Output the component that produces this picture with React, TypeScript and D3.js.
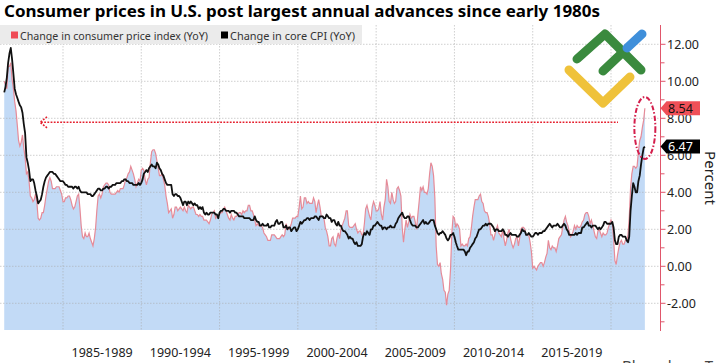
import React from "react";
import * as d3 from "d3";

const width = 720;
const height = 363;

// monthly YoY change in %, Apr 1981 .. Mar 2022 (one row per year)
const cpiYoY = [
  10.0, 9.8, 9.6, 10.8, 10.8, 11.0, 10.1, 9.6, 8.9,
  8.4, 7.6, 6.8, 6.5, 6.7, 7.1, 6.4, 5.9, 5.0, 5.1, 4.6, 3.8,
  3.7, 3.5, 3.6, 3.9, 3.5, 2.6, 2.5, 2.6, 2.9, 2.9, 3.3, 3.8,
  4.2, 4.6, 4.8, 4.6, 4.2, 4.2, 4.2, 4.3, 4.3, 4.3, 4.1, 3.9,
  3.5, 3.5, 3.7, 3.7, 3.8, 3.8, 3.6, 3.3, 3.1, 3.2, 3.5, 3.8,
  3.9, 3.1, 2.2, 1.6, 1.5, 1.8, 1.6, 1.6, 1.8, 1.5, 1.3, 1.1,
  1.5, 2.1, 3.0, 3.8, 3.9, 3.7, 3.9, 4.3, 4.4, 4.5, 4.5, 4.4,
  4.0, 3.9, 3.9, 3.9, 3.9, 4.0, 4.1, 4.0, 4.2, 4.2, 4.2, 4.4,
  4.7, 4.8, 5.0, 5.1, 5.4, 5.2, 5.0, 4.7, 4.3, 4.5, 4.7, 4.6,
  5.2, 5.3, 5.2, 4.7, 4.4, 4.7, 4.8, 5.6, 6.2, 6.3, 6.3, 6.1,
  5.7, 5.3, 4.9, 4.9, 5.0, 4.7, 4.4, 3.8, 3.4, 2.9, 3.0, 3.1,
  2.6, 2.8, 3.2, 3.2, 3.0, 3.1, 3.2, 3.1, 3.0, 3.2, 3.0, 2.9,
  3.3, 3.2, 3.1, 3.2, 3.2, 3.0, 2.8, 2.8, 2.7, 2.8, 2.7, 2.7,
  2.5, 2.5, 2.5, 2.4, 2.3, 2.5, 2.8, 2.9, 3.0, 2.6, 2.7, 2.7,
  2.8, 2.9, 2.9, 3.1, 3.2, 3.0, 2.8, 2.6, 2.5, 2.8, 2.6, 2.5,
  2.7, 2.7, 2.8, 2.9, 2.9, 2.8, 3.0, 2.9, 3.0, 3.0, 3.3, 3.3,
  3.0, 3.0, 2.8, 2.5, 2.2, 2.3, 2.2, 2.2, 2.2, 2.1, 1.8, 1.7,
  1.6, 1.4, 1.4, 1.4, 1.7, 1.7, 1.7, 1.6, 1.5, 1.5, 1.5, 1.6,
  1.7, 1.6, 1.7, 2.3, 2.1, 2.0, 2.1, 2.3, 2.6, 2.6, 2.6, 2.7,
  2.7, 3.2, 3.8, 3.1, 3.2, 3.7, 3.7, 3.4, 3.5, 3.4, 3.4, 3.4,
  3.7, 3.5, 2.9, 3.3, 3.6, 3.2, 2.7, 2.7, 2.6, 2.1, 1.9, 1.6,
  1.1, 1.1, 1.5, 1.6, 1.2, 1.1, 1.5, 1.8, 1.5, 2.0, 2.2, 2.4,
  2.6, 3.0, 3.0, 2.2, 2.1, 2.1, 2.1, 2.2, 2.3, 2.0, 1.8, 1.9,
  1.9, 1.7, 1.7, 2.3, 3.1, 3.3, 3.0, 2.7, 2.5, 3.2, 3.5, 3.3,
  3.0, 3.0, 3.1, 3.5, 2.8, 2.5, 3.2, 3.6, 4.7, 4.3, 3.5, 3.4,
  4.0, 3.6, 3.4, 3.5, 4.2, 4.3, 4.1, 3.8, 2.1, 1.3, 2.0, 2.5,
  2.1, 2.4, 2.8, 2.6, 2.7, 2.7, 2.4, 2.0, 2.8, 3.5, 4.3, 4.1,
  4.3, 4.0, 4.0, 3.9, 4.2, 5.0, 5.6, 5.4, 4.9, 3.7, 1.1, 0.1,
  0.0, 0.2, -0.4, -0.7, -1.3, -1.4, -2.1, -1.5, -1.3, -0.2, 1.8, 2.7,
  2.6, 2.1, 2.3, 2.2, 2.0, 1.1, 1.2, 1.1, 1.1, 1.2, 1.1, 1.5,
  1.6, 2.1, 2.7, 3.2, 3.6, 3.6, 3.6, 3.8, 3.9, 3.5, 3.4, 3.0,
  2.9, 2.9, 2.7, 2.3, 1.7, 1.7, 1.4, 1.7, 2.0, 2.2, 1.8, 1.7,
  1.6, 2.0, 1.5, 1.1, 1.4, 1.8, 2.0, 1.5, 1.2, 1.0, 1.2, 1.5,
  1.6, 1.1, 1.5, 2.0, 2.1, 2.1, 2.0, 1.7, 1.7, 1.7, 1.3, 0.8,
  -0.1, 0.0, -0.1, -0.2, 0.0, 0.1, 0.2, 0.2, 0.0, 0.2, 0.5, 0.7,
  1.4, 1.0, 0.9, 1.1, 1.0, 1.0, 0.8, 1.1, 1.5, 1.6, 1.7, 2.1,
  2.5, 2.7, 2.4, 2.2, 1.9, 1.6, 1.7, 1.9, 2.2, 2.0, 2.2, 2.1,
  2.1, 2.2, 2.4, 2.5, 2.8, 2.9, 2.9, 2.7, 2.3, 2.5, 2.2, 1.9,
  1.6, 1.5, 1.9, 2.0, 1.8, 1.6, 1.8, 1.7, 1.7, 1.8, 2.1, 2.3,
  2.5, 2.3, 1.5, 0.3, 0.1, 0.6, 1.0, 1.3, 1.4, 1.2, 1.2, 1.4,
  1.4, 1.7, 2.6, 4.2, 5.0, 5.4, 5.4, 5.3, 5.4, 6.2, 6.8, 7.0,
  7.5, 7.9, 8.54,
];

const coreYoY = [
  9.4, 9.7, 10.2, 11.0, 11.5, 11.8, 11.2, 10.4, 9.6,
  9.3, 9.1, 8.9, 8.7, 8.6, 8.3, 7.7, 7.2, 5.9, 5.6, 5.2, 4.6,
  4.7, 4.7, 4.5, 4.1, 3.8, 3.4, 3.5, 3.6, 3.9, 4.3, 4.6, 4.8,
  4.9, 5.0, 5.1, 5.1, 5.1, 5.0, 5.0, 4.9, 4.8, 4.7, 4.6, 4.6,
  4.6, 4.5, 4.4, 4.4, 4.3, 4.3, 4.3, 4.3, 4.2, 4.3, 4.3, 4.2,
  4.3, 4.1, 4.0, 4.0, 4.0, 4.0, 4.0, 3.9, 3.9, 3.9, 3.8, 3.8,
  3.9, 4.0, 4.1, 4.2, 4.2, 4.1, 4.1, 4.2, 4.2, 4.3, 4.3, 4.2,
  4.3, 4.3, 4.4, 4.4, 4.4, 4.5, 4.5, 4.5, 4.5, 4.6, 4.6, 4.7,
  4.7, 4.6, 4.6, 4.5, 4.5, 4.5, 4.4, 4.4, 4.4, 4.4, 4.5, 4.4,
  4.5, 4.7, 5.0, 5.1, 5.2, 5.1, 5.3, 5.4, 5.5, 5.4, 5.4, 5.3,
  5.6, 5.5, 5.3, 5.2, 5.0, 4.9, 4.7, 4.5, 4.4, 4.4, 4.4, 4.4,
  3.9, 3.8, 3.9, 3.9, 3.8, 3.8, 3.7, 3.5, 3.3, 3.5, 3.5, 3.3,
  3.5, 3.4, 3.5, 3.4, 3.3, 3.4, 3.3, 3.3, 3.1, 3.2, 3.1, 3.2,
  2.9, 2.8, 2.9, 2.8, 2.8, 2.9, 2.9, 2.9, 2.9, 2.8, 2.8, 2.6,
  2.9, 3.0, 3.0, 3.1, 3.1, 3.0, 3.0, 3.0, 2.9, 3.0, 3.0, 3.0,
  2.9, 2.9, 2.8, 2.7, 2.7, 2.7, 2.7, 2.6, 2.6, 2.6, 2.6, 2.6,
  2.5, 2.5, 2.5, 2.7, 2.5, 2.4, 2.4, 2.2, 2.2, 2.3, 2.2, 2.2,
  2.2, 2.3, 2.1, 2.1, 2.2, 2.2, 2.2, 2.4, 2.5, 2.3, 2.3, 2.4,
  2.4, 2.1, 2.1, 2.2, 2.0, 2.1, 2.1, 1.9, 2.0, 2.1, 2.1, 1.9,
  2.0, 2.2, 2.4, 2.3, 2.4, 2.5, 2.5, 2.6, 2.6, 2.5, 2.6, 2.6,
  2.6, 2.7, 2.7, 2.6, 2.5, 2.7, 2.7, 2.7, 2.6, 2.6, 2.8, 2.7,
  2.6, 2.6, 2.4, 2.5, 2.5, 2.3, 2.2, 2.4, 2.2, 2.2, 2.0, 1.9,
  1.9, 1.8, 1.7, 1.5, 1.6, 1.5, 1.5, 1.3, 1.2, 1.3, 1.1, 1.1,
  1.1, 1.2, 1.6, 1.8, 1.7, 1.9, 1.8, 1.7, 2.0, 2.0, 2.2, 2.2,
  2.3, 2.4, 2.3, 2.2, 2.2, 2.0, 2.1, 2.1, 2.0, 2.1, 2.1, 2.2,
  2.1, 2.1, 2.1, 2.3, 2.4, 2.6, 2.7, 2.8, 2.9, 2.7, 2.6, 2.6,
  2.7, 2.7, 2.5, 2.3, 2.2, 2.2, 2.2, 2.1, 2.1, 2.2, 2.3, 2.4,
  2.5, 2.3, 2.4, 2.3, 2.3, 2.4, 2.5, 2.5, 2.5, 2.2, 2.0, 1.8,
  1.7, 1.8, 1.8, 1.9, 1.8, 1.7, 1.5, 1.4, 1.5, 1.7, 1.7, 1.8,
  1.6, 1.3, 1.1, 0.9, 0.9, 0.9, 0.9, 0.9, 0.8, 0.6, 0.8, 0.8,
  1.0, 1.1, 1.2, 1.3, 1.5, 1.6, 1.8, 2.0, 2.0, 2.1, 2.2, 2.2,
  2.3, 2.2, 2.3, 2.3, 2.3, 2.2, 2.1, 1.9, 2.0, 2.0, 1.9, 1.9,
  1.9, 2.0, 1.9, 1.7, 1.7, 1.6, 1.7, 1.8, 1.7, 1.7, 1.7, 1.7,
  1.6, 1.6, 1.7, 1.8, 2.0, 1.9, 1.9, 1.7, 1.7, 1.8, 1.7, 1.6,
  1.6, 1.7, 1.8, 1.8, 1.7, 1.8, 1.8, 1.8, 1.9, 1.9, 2.0, 2.1,
  2.2, 2.3, 2.2, 2.1, 2.2, 2.2, 2.2, 2.3, 2.2, 2.1, 2.1, 2.2,
  2.3, 2.2, 2.0, 1.9, 1.7, 1.7, 1.7, 1.7, 1.7, 1.8, 1.7, 1.8,
  1.8, 1.8, 2.1, 2.1, 2.2, 2.3, 2.4, 2.2, 2.2, 2.1, 2.2, 2.2,
  2.2, 2.1, 2.0, 2.1, 2.0, 2.1, 2.2, 2.4, 2.4, 2.3, 2.3, 2.3,
  2.3, 2.4, 2.1, 1.4, 1.2, 1.2, 1.6, 1.7, 1.7, 1.6, 1.6, 1.6,
  1.4, 1.3, 1.6, 3.0, 3.8, 4.5, 4.3, 4.0, 4.0, 4.6, 4.9, 5.5,
  6.0, 6.4, 6.47,
];

const firstMonth = new Date(1981, 3, 1);
const gridYears = [1985, 1990, 1995, 2000, 2005, 2010, 2015, 2020];
const periodLabels = ["1985-1989", "1990-1994", "1995-1999", "2000-2004", "2005-2009", "2010-2014", "2015-2019"];
const yTicks = [-2, 0, 2, 4, 6, 8, 10, 12];
const yMinorTicks = [-3, -1, 1, 3, 5, 7, 9, 11];
const legendItems = ["Change in consumer price index (YoY)", "Change in core CPI (YoY)"];
const titleText = "Consumer prices in U.S. post largest annual advances since early 1980s";

const font = "'Noto Sans', 'DejaVu Sans', sans-serif";

export default function App() {
  const x = d3.scaleTime()
    .domain([new Date(1985, 0, 1), new Date(2020, 0, 1)])
    .range([63, 611]);
  const y = d3.scaleLinear().domain([-2, 12]).range([303.3, 44.3]);

  const top = 25, bottom = 330, axisX = 660.5;
  const dates = cpiYoY.map((_, i) => d3.timeMonth.offset(firstMonth, i));

  const area = d3.area<number>()
    .x((_, i) => x(dates[i]))
    .y0(bottom)
    .y1(d => y(d));
  const line = d3.line<number>()
    .x((_, i) => x(dates[i]))
    .y(d => y(d));

  const lastCpi = cpiYoY[cpiYoY.length - 1];
  const lastCore = coreYoY[coreYoY.length - 1];
  const tag = (cy: number) =>
    `M${axisX},${cy} L${axisX + 6},${cy - 7} L700,${cy - 7} L700,${cy + 7} L${axisX + 6},${cy + 7} Z`;

  // arrow from today's level back to early 1980s
  const arrowY = y(lastCpi) + 14;
  const lastX = x(dates[dates.length - 1]);

  return (
    <div style={{ position: "absolute", left: 0, top: 0 }}>
      <svg width={width} height={height} style={{ display: "block", background: "#fff" }} fontFamily={font}>
        <rect width={width} height={height} fill="#fff" />

        {/* area under headline CPI */}
        <path d={area(cpiYoY) || ""} fill="#c2daf6" />

        {/* grid */}
        {yTicks.map(t => (
          <line key={"h" + t} x1={0} x2={axisX} y1={y(t)} y2={y(t)}
            stroke="#a9a9a9" strokeOpacity={0.55} strokeDasharray="1.5,1.5" />
        ))}
        {gridYears.map(yr => (
          <line key={"v" + yr} x1={x(new Date(yr, 0, 1))} x2={x(new Date(yr, 0, 1))} y1={top} y2={bottom}
            stroke="#a9a9a9" strokeOpacity={0.55} strokeDasharray="1.5,1.5" />
        ))}

        {/* series */}
        <path d={line(cpiYoY) || ""} fill="none" stroke="#e68b98" strokeWidth={1.2} />
        <path d={line(coreYoY) || ""} fill="none" stroke="#111" strokeWidth={1.8} strokeLinejoin="round" />

        {/* legend */}
        <rect x={0} y={top} width={362} height={19} fill="#ebebeb" />
        <rect x={11} y={31.5} width={7} height={7} fill="#ef4a55" />
        <text x={20} y={39.5} fontSize={11.5} fill="#333" textLength={188} lengthAdjust="spacingAndGlyphs">{legendItems[0]}</text>
        <rect x={221} y={31.5} width={7} height={7} fill="#000" />
        <text x={230} y={39.5} fontSize={11.5} fill="#333" textLength={125} lengthAdjust="spacingAndGlyphs">{legendItems[1]}</text>

        {/* title */}
        <text x={4} y={17} fontSize={16} fontWeight="bold" fill="#000" textLength={596} lengthAdjust="spacingAndGlyphs">{titleText}</text>

        {/* dotted arrow */}
        <line x1={41} x2={618} y1={arrowY} y2={arrowY} stroke="#e5202e" strokeWidth={1.6} strokeDasharray="1.8,1.4" />
        <polyline points={`47,${arrowY - 5.5} 40,${arrowY} 47,${arrowY + 5.5}`} fill="none"
          stroke="#e5202e" strokeWidth={1.6} strokeDasharray="1.8,1.4" />

        {/* ellipse around the latest readings */}
        <ellipse cx={lastX} cy={(y(lastCpi) + y(lastCore)) / 2 + 0.5} rx={10.5} ry={31} fill="none"
          stroke="#d41f4c" strokeWidth={2} strokeDasharray="5,2,1.5,2" />

        {/* logo */}
        <g fill="none" strokeWidth={9} strokeLinecap="round" strokeLinejoin="round">
          <path d="M569,70 L603,103 L630,77" stroke="#efc23a" />
          <path d="M577,59 L605,34 L641,70" stroke="#3a8a3e" />
          <path d="M603,71 L622,53" stroke="#3a8a3e" />
          <path d="M627,48 L642,34" stroke="#3f8fda" />
        </g>

        {/* right axis */}
        <line x1={axisX} x2={axisX} y1={top} y2={bottom + 1} stroke="#e0566b" strokeWidth={1} />
        {yTicks.map(t => (
          <g key={"t" + t}>
            <line x1={axisX} x2={axisX + 5} y1={y(t)} y2={y(t)} stroke="#e0566b" />
            <text x={667} y={y(t)} dy="0.36em" fontSize={12.5} fill="#222">{t.toFixed(2)}</text>
          </g>
        ))}
        {yMinorTicks.map(t => (
          <line key={"m" + t} x1={axisX} x2={axisX + 4} y1={y(t)} y2={y(t)} stroke="#e0566b" />
        ))}
        <text transform="translate(705,178) rotate(90)" textAnchor="middle" fontSize={15} fill="#222">Percent</text>

        {/* last value tags */}
        <path d={tag(y(lastCpi))} fill="#ef5058" />
        <text x={668} y={y(lastCpi)} dy="0.36em" fontSize={12.5} fill="#111">{lastCpi.toFixed(2)}</text>
        <path d={tag(y(lastCore))} fill="#000" />
        <text x={668} y={y(lastCore)} dy="0.36em" fontSize={12.5} fill="#fff">{lastCore.toFixed(2)}</text>

        {/* period labels */}
        {periodLabels.map((lab, i) => {
          const cx = (x(new Date(gridYears[i], 0, 1)) + x(new Date(gridYears[i + 1], 0, 1))) / 2;
          return <text key={lab} x={cx} y={357} textAnchor="middle" fontSize={12.5} fill="#222">{lab}</text>;
        })}

        {/* source, cut off by the frame */}
        <text x={622} y={371} fontSize={15} fill="#444">Bloomberg T</text>
      </svg>
    </div>
  );
}
